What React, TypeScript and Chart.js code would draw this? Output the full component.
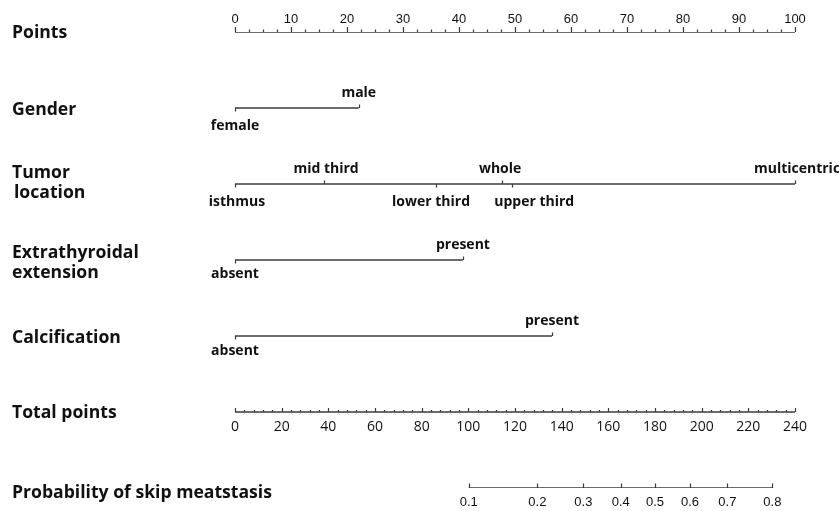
import React, { useEffect, useRef } from "react";
import { Chart, registerables } from "chart.js";

Chart.register(...registerables);

// ---------------- data ----------------
const rowTitles: string[][] = [
  ["Points"],
  ["Gender"],
  ["Tumor", "location"],
  ["Extrathyroidal", "extension"],
  ["Calcification"],
  ["Total points"],
  ["Probability of skip meatstasis"],
];

const pointsTicks = [0, 10, 20, 30, 40, 50, 60, 70, 80, 90, 100];
const pointsMinor = [
  2.5, 5, 7.5, 12.5, 15, 17.5, 22.5, 25, 27.5, 32.5, 35, 37.5, 42.5, 45, 47.5,
  52.5, 55, 57.5, 62.5, 65, 67.5, 72.5, 75, 77.5, 82.5, 85, 87.5, 92.5, 95, 97.5,
];

const genderLevels = ["female", "male"];
const genderPoints = [0, 22.1];

const tumorLevels = ["isthmus", "mid third", "lower third", "whole", "upper third", "multicentric"];
const tumorPoints = [0, 15.9, 35.9, 47.7, 49.5, 100];

const ethLevels = ["absent", "present"];
const ethPoints = [0, 40.7];

const calcLevels = ["absent", "present"];
const calcPoints = [0, 56.6];

const totalTicks = [0, 20, 40, 60, 80, 100, 120, 140, 160, 180, 200, 220, 240];
const totalMinor = [
  4, 8, 12, 16, 24, 28, 32, 36, 44, 48, 52, 56, 64, 68, 72, 76, 84, 88, 92, 96,
  104, 108, 112, 116, 124, 128, 132, 136, 144, 148, 152, 156, 164, 168, 172, 176,
  184, 188, 192, 196, 204, 208, 212, 216, 224, 228, 232, 236,
];

const probTickLabels = ["0.1", "0.2", "0.3", "0.4", "0.5", "0.6", "0.7", "0.8"];
const probTotalPoints = [100.2, 129.6, 149.3, 165.3, 180.0, 195.0, 211.0, 230.3];

// --------------- styles ---------------
const LINE = "#3a3a3a";
const TEXT = "#111111";
const TITLE_FONT = 'bold 17.6px "Open Sans", "Noto Sans", sans-serif';
const LEVEL_FONT = 'bold 14px "Open Sans", "Noto Sans", sans-serif';
const TICK_FONT = '13px "Liberation Sans", Arial, sans-serif';
const TOTAL_FONT = '14px "Open Sans", "Noto Sans", sans-serif';

// label nudges (pixels) to avoid overlapping level labels
const labelNudge: Record<string, number> = {
  "mid third": 2,
  "lower third": -5,
  whole: -2,
  "upper third": 22,
  isthmus: 2,
  multicentric: 2,
};

const variableRows = [
  { row: 1, levels: genderLevels, pts: genderPoints, below: 22 },
  { row: 2, levels: tumorLevels, pts: tumorPoints, below: 22 },
  { row: 3, levels: ethLevels, pts: ethPoints, below: 18 },
  { row: 4, levels: calcLevels, pts: calcPoints, below: 18.5 },
];

// title baseline offsets relative to row line (per line of title)
const titleOffsets: number[][] = [[6], [7], [-6, 14], [-2, 18], [6.5], [6], [9.5]];

const nomoPlugin = {
  id: "nomo",
  afterDatasetsDraw(chart: any) {
    const ctx: CanvasRenderingContext2D = chart.ctx;
    const xP = chart.scales.x;
    const xT = chart.scales.xTotal;
    const yS = chart.scales.y;
    ctx.save();
    ctx.strokeStyle = LINE;
    ctx.lineWidth = 1.2;
    ctx.fillStyle = TEXT;

    // titles
    ctx.font = TITLE_FONT;
    ctx.textAlign = "left";
    ctx.textBaseline = "alphabetic";
    rowTitles.forEach((lines, r) => {
      const yy = yS.getPixelForValue(r);
      lines.forEach((t, k) => {
        ctx.fillText(t, k === 1 && r === 2 ? 14 : 12, yy + titleOffsets[r][k]);
      });
    });

    // Points axis (ticks up, labels above)
    const y0 = yS.getPixelForValue(0);
    ctx.beginPath();
    pointsTicks.forEach((v) => {
      const px = Math.round(xP.getPixelForValue(v)) + 0.5;
      ctx.moveTo(px, y0);
      ctx.lineTo(px, y0 - 5);
    });
    pointsMinor.forEach((v) => {
      const px = Math.round(xP.getPixelForValue(v)) + 0.5;
      ctx.moveTo(px, y0);
      ctx.lineTo(px, y0 - 2.5);
    });
    ctx.stroke();
    ctx.font = TICK_FONT;
    ctx.textAlign = "center";
    pointsTicks.forEach((v) => {
      ctx.fillText(String(v), xP.getPixelForValue(v), y0 - 9.5);
    });

    // variable rows: ticks + level labels
    ctx.font = LEVEL_FONT;
    variableRows.forEach((vr) => {
      const yy = yS.getPixelForValue(vr.row);
      ctx.beginPath();
      vr.pts.forEach((p, i) => {
        const px = Math.round(xP.getPixelForValue(p)) + 0.5;
        const above = i % 2 === 1;
        ctx.moveTo(px, yy);
        ctx.lineTo(px, above ? yy - 3.5 : yy + 3.5);
      });
      ctx.stroke();
      vr.pts.forEach((p, i) => {
        const name = vr.levels[i];
        const px = xP.getPixelForValue(p) + (labelNudge[name] || 0);
        const above = i % 2 === 1;
        ctx.fillText(name, px, above ? yy - 11.5 : yy + vr.below);
      });
    });

    // Total points axis (ticks up, labels below)
    const y5 = yS.getPixelForValue(5);
    ctx.beginPath();
    totalTicks.forEach((v) => {
      const px = Math.round(xT.getPixelForValue(v)) + 0.5;
      ctx.moveTo(px, y5);
      ctx.lineTo(px, y5 - 4);
    });
    totalMinor.forEach((v) => {
      const px = Math.round(xT.getPixelForValue(v)) + 0.5;
      ctx.moveTo(px, y5);
      ctx.lineTo(px, y5 - 2);
    });
    ctx.stroke();
    ctx.font = TOTAL_FONT;
    totalTicks.forEach((v) => {
      ctx.fillText(String(v), xT.getPixelForValue(v), y5 + 19);
    });

    // Probability axis
    const y6 = yS.getPixelForValue(6);
    ctx.beginPath();
    probTotalPoints.forEach((v) => {
      const px = Math.round(xT.getPixelForValue(v)) + 0.5;
      ctx.moveTo(px, y6);
      ctx.lineTo(px, y6 - 4.5);
    });
    ctx.stroke();
    ctx.font = TICK_FONT;
    probTotalPoints.forEach((v, i) => {
      ctx.fillText(probTickLabels[i], xT.getPixelForValue(v), y6 + 18);
    });

    ctx.restore();
  },
};

const lineDs = (data: { x: number; y: number }[], xAxisID = "x") => ({
  type: "line" as const,
  data,
  xAxisID,
  yAxisID: "y",
  borderColor: LINE,
  borderWidth: 1.3,
  pointRadius: 0,
  tension: 0,
  fill: false,
});

export default function App() {
  const ref = useRef<HTMLCanvasElement | null>(null);
  useEffect(() => {
    if (!ref.current) return;
    const datasets: any[] = [
      lineDs([
        { x: pointsTicks[0], y: 0 },
        { x: pointsTicks[pointsTicks.length - 1], y: 0 },
      ]),
      ...variableRows.map((vr) =>
        lineDs(
          vr.pts
            .map((p) => ({ x: p, y: vr.row }))
            .sort((a, b) => a.x - b.x)
        )
      ),
      lineDs(
        [
          { x: totalTicks[0], y: 5 },
          { x: totalTicks[totalTicks.length - 1], y: 5 },
        ],
        "xTotal"
      ),
      lineDs(
        [
          { x: probTotalPoints[0], y: 6 },
          { x: probTotalPoints[probTotalPoints.length - 1], y: 6 },
        ],
        "xTotal"
      ),
    ];
    const chart = new Chart(ref.current, {
      type: "line",
      data: { datasets },
      options: {
        animation: false,
        responsive: false,
        devicePixelRatio: 1,
        layout: { padding: { left: 235, right: 44, top: 32, bottom: 23 } },
        plugins: { legend: { display: false }, tooltip: { enabled: false } },
        scales: {
          x: { type: "linear", min: 0, max: 100, display: false },
          xTotal: { type: "linear", min: 0, max: 240, display: false, position: "bottom" },
          y: { type: "linear", min: 0, max: 6, reverse: true, display: false },
        },
      },
      plugins: [nomoPlugin],
    });
    return () => chart.destroy();
  }, []);
  return (
    <div style={{ position: "fixed", left: 0, top: 0, width: 839, height: 511, background: "#fff" }}>
      <canvas ref={ref} width={839} height={511} style={{ width: 839, height: 511 }} />
    </div>
  );
}
